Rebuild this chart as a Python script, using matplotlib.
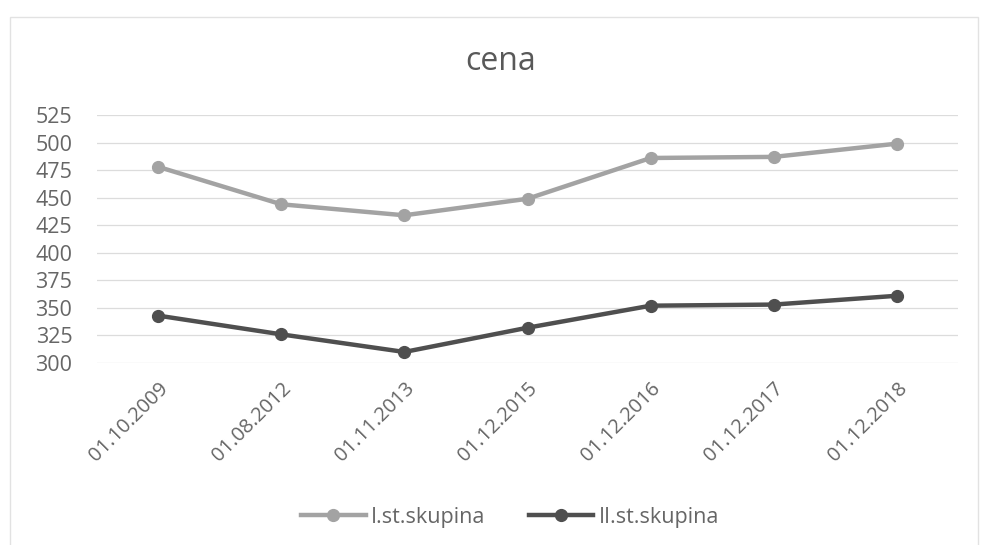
import matplotlib
matplotlib.use("Agg")
import matplotlib.pyplot as plt
from matplotlib.patches import Rectangle

plt.rcParams['font.family'] = ['Open Sans', 'DejaVu Sans']

dates = ["01.10.2009", "01.08.2012", "01.11.2013", "01.12.2015",
         "01.12.2016", "01.12.2017", "01.12.2018"]
skupina1 = [478, 444, 434, 449, 486, 487, 499]
skupina2 = [343, 326, 310, 332, 352, 353, 361]
yticks = [300, 325, 350, 375, 400, 425, 450, 475, 500, 525]

W, H = 983, 545
fig = plt.figure(figsize=(W / 100, H / 100), dpi=100)
fig.patch.set_facecolor("white")

# chart border
fig.add_artist(Rectangle((10 / W, -0.01), (978 - 10) / W, 1 - 17 / H + 0.01,
                         transform=fig.transFigure, fill=False,
                         edgecolor="#e2e2e2", linewidth=1.0))

left, right = 96.5, 958.5
top, bottom = 115, 363
ax = fig.add_axes([left / W, 1 - bottom / H, (right - left) / W, (bottom - top) / H])

x = list(range(len(dates)))
ax.plot(x, skupina1, color="#a3a3a3", linewidth=3.2, marker="o", markersize=8.5,
        label="I.st.skupina", zorder=3)
ax.plot(x, skupina2, color="#4f4f4f", linewidth=3.2, marker="o", markersize=8.5,
        label="II.st.skupina", zorder=3)

ax.set_xlim(-0.5, len(dates) - 0.5)
ax.set_ylim(300, 525)
ax.set_yticks(yticks)
ax.set_xticks(x)
ax.set_xticklabels(dates, rotation=45, ha="right", rotation_mode="anchor")
ax.tick_params(axis="both", length=0, colors="#666666")
ax.tick_params(axis="y", pad=17.5, labelsize=15.5)
ax.tick_params(axis="x", pad=11, labelsize=14.5)
ax.grid(axis="y", color="#dcdcdc", linewidth=0.9)
ax.set_axisbelow(True)
for s in ax.spines.values():
    s.set_visible(False)

fig.text(501 / W, 1 - 62 / H, "cena", ha="center", va="center",
         fontsize=23, color="#595959")

fig.legend(loc="center", bbox_to_anchor=(510 / W, 1 - 517 / H), ncol=2,
           frameon=False, fontsize=15.5, labelcolor="#666666",
           handlelength=3.0, columnspacing=2.0, handletextpad=0.25)

fig.savefig("out.png", dpi=100, facecolor="white")
